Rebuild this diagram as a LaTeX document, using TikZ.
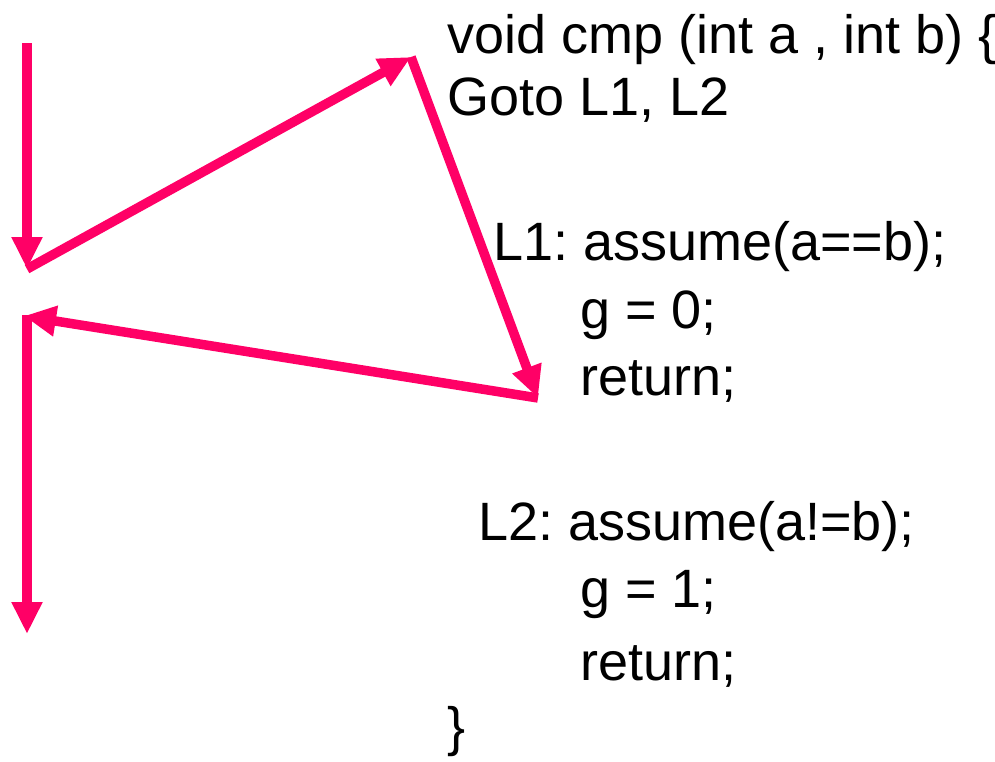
\documentclass[tikz,border=0pt]{standalone}
\usepackage{fontspec}
\setmainfont{Liberation Sans}
\usepackage{xcolor}
\usepackage{tikz}
\usetikzlibrary{arrows.meta, positioning}
\definecolor{hotpink}{HTML}{FF0066}
\tikzstyle{arr}=[-{Triangle[length=32pt,width=29pt]},line width=9.5pt,color=hotpink]
\tikzstyle{codeline}=[anchor=base west,inner sep=0pt,
  font=\fontsize{54}{60}\selectfont]
\frenchspacing

\begin{document}
\begin{tikzpicture}[x=1pt,y=-1pt]
  \useasboundingbox (0,0) rectangle (995,761);
  % code on the right
  \node[codeline] (head) at (447,53) {void cmp (int a , int b) \{};
  \node[codeline] (jump) at (447,115) {Goto L1, L2};
  \node[codeline] (lone) at (493,260) {L1: assume(a==b);};
  \node[codeline] (gzero) at (580,328) {g = 0;};
  \node[codeline] (retone) at (580,395) {return;};
  \node[codeline] (ltwo) at (478,540) {L2: assume(a!=b);};
  \node[codeline] (gone) at (580,607) {g = 1;};
  \node[codeline] (rettwo) at (580,680) {return;};
  \node[codeline] (close) at (447,745) {\}};
  % path through the code
  \coordinate (start) at (27,43);
  \coordinate (split) at (27,269);
  \coordinate (go) at (411,57);
  \coordinate (ret) at (538,398);
  \coordinate (join) at (24,316);
  \coordinate (joinb) at (27,315);
  \coordinate (exit) at (27,634);
  \draw[arr] (start) -- (split);
  \draw[arr] (split) -- (go);
  \draw[arr] (go) -- (ret);
  \draw[arr] (ret) -- (join);
  \draw[arr] (joinb) -- (exit);
\end{tikzpicture}
\end{document}
